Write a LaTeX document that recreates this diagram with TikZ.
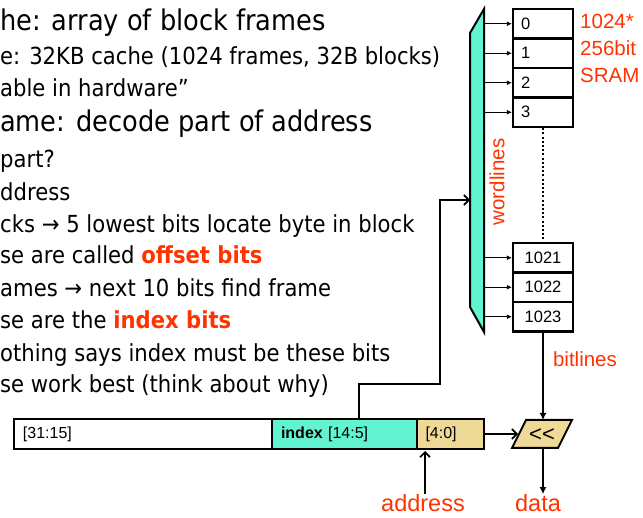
\documentclass[tikz,border=0pt]{standalone}
\usepackage{fontspec}
\setmainfont{Liberation Sans}
\newfontfamily\tah[FakeStretch=0.9]{DejaVu Sans}
\usetikzlibrary{arrows.meta}
\definecolor{tealfill}{RGB}{98,243,208}
\definecolor{tanfill}{RGB}{238,218,150}
\definecolor{hired}{RGB}{255,51,0}
\tikzset{
  bodytxt/.style={anchor=base west, inner sep=0pt, font=\tah\fontsize{23.5}{27}\selectfont},
  bigtxt/.style={anchor=base west, inner sep=0pt, font=\tah\fontsize{28.5}{33}\selectfont},
  cell/.style={draw, line width=2.4pt, minimum width=60pt, minimum height=29.5pt, inner sep=0pt, font=\fontsize{16.5}{18}\selectfont},
  cellL/.style={cell, text width=44pt, align=left},
  seg/.style={draw, line width=2.4pt, minimum height=30pt, inner sep=0pt, font=\fontsize{16}{18}\selectfont, align=left},
  redlbl/.style={text=hired, inner sep=0pt, font=\fontsize{20.5}{27}\selectfont},
  wl/.style={line width=0.9pt, -{Latex[length=5pt,width=5pt]}},
  conn/.style={line width=2pt},
  barb/.style={conn, -{Straight Barb[length=5pt,width=10pt,line width=1.6pt]}},
  tri/.style={conn, -{Latex[length=7pt,width=7pt]}},
  dotline/.style={line width=2.2pt, dash pattern=on 2pt off 2.2pt},
}
\begin{document}
\begin{tikzpicture}[x=1pt,y=-1pt]
\useasboundingbox (0,0) rectangle (643,518);

% ---- bullet text ----
\node[bigtxt]  (t1)  at (0,31)  {he: array of block frames};
\node[bodytxt] (t2)  at (0,65)  {e: 32KB cache (1024 frames, 32B blocks)};
\node[bodytxt] (t3)  at (0,97)  {able in hardware”};
\node[bigtxt]  (t4)  at (0,132) {ame: decode part of address};
\node[bodytxt] (t5)  at (0,168) {part?};
\node[bodytxt] (t6)  at (0,201) {ddress};
\node[bodytxt] (t7)  at (0,233) {cks → 5 lowest bits locate byte in block};
\node[bodytxt] (t8)  at (0,264) {se are called {\bfseries\color{hired}offset bits}};
\node[bodytxt] (t9)  at (0,297) {ames → next 10 bits find frame};
\node[bodytxt] (t10) at (0,329) {se are the {\bfseries\color{hired}index bits}};
\node[bodytxt] (t11) at (0,362) {othing says index must be these bits};
\node[bodytxt] (t12) at (0,393) {se work best (think about why)};

% ---- decoder ----
\filldraw[fill=tealfill, line width=2pt, line join=miter] (470,33) -- (484,9) -- (484,332) -- (470,307) -- cycle;
\node[redlbl, rotate=90] (wlab) at (497,182) {wordlines};

% ---- SRAM cells ----
\node[cellL] (c0) at (543,23.75)  {0};
\node[cellL] (c1) at (543,53.25)  {1};
\node[cellL] (c2) at (543,82.75)  {2};
\node[cellL] (c3) at (543,112.25) {3};
\node[cell] (c1021) at (543,257.75) {1021};
\node[cell] (c1022) at (543,287.25) {1022};
\node[cell] (c1023) at (543,316.75) {1023};
\draw[dotline] (c3.south) -- (c1021.north);

\foreach \n in {0,1,2,3,1021,1022,1023}{
  \coordinate (d\n) at (c\n.west -| 484,0);
  \draw[wl] (d\n) -- (c\n.west);
}

\node[redlbl, anchor=north west, align=left] (sram) at (580,14) {1024*\\256bit\\SRAM};

% ---- address bar ----
\node[seg, fill=white, minimum width=258pt, text width=240pt] (s1) at (143,434) {[31:15]};
\node[seg, fill=tealfill, minimum width=145pt, text width=127pt] (s2) at (344.5,434) {{\bfseries index} [14:5]};
\node[seg, fill=tanfill, minimum width=67pt, text width=50pt] (s3) at (450.5,434) {[4:0]};

% ---- shifter ----
\filldraw[fill=tanfill, line width=2pt, line join=miter] (512,448) -- (526,420) -- (572,420) -- (558,448) -- cycle;
\node[inner sep=0pt, font=\fontsize{22}{24}\selectfont] (sh) at (542,435) {{<}{<}};
\coordinate (shT) at (543,420);
\coordinate (shB) at (543,448);
\coordinate (shL) at (518,434);

\node[redlbl] (bl) at (585,359) {bitlines};
\draw[tri] (c1023.south) -- (shT);
\draw[barb] (s3.east) -- (shL);

% index route
\coordinate (idx) at (359,419);
\coordinate (decin) at (470,200);
\draw[barb] (idx) -- (359,384) -- (440,384) -- (440,200) -- (decin);

% address / data
\node[text=hired, inner sep=0pt, font=\fontsize{23.5}{26}\selectfont] (addr) at (423,503) {address};
\node[text=hired, inner sep=0pt, font=\fontsize{23.5}{26}\selectfont] (data) at (538,503) {data};
\coordinate (addrin) at (425,451);
\draw[barb] (addr.north -| addrin) -- (addrin);
\draw[tri] (shB) -- (data.north -| shB);
\end{tikzpicture}
\end{document}
